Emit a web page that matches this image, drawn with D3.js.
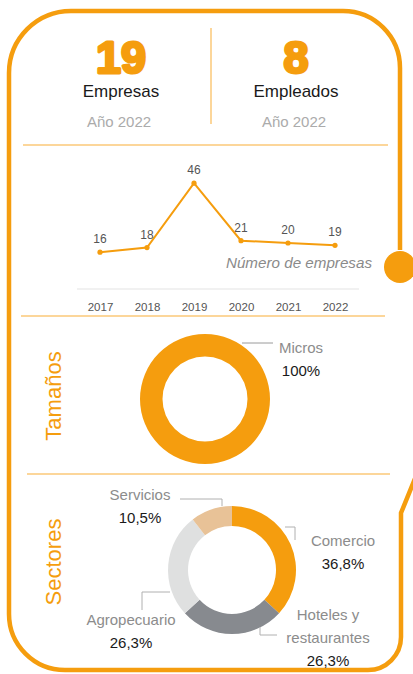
<!DOCTYPE html>
<html>
<head>
<meta charset="utf-8">
<script src="https://cdn.jsdelivr.net/npm/d3@7"></script>
<style>
  body { margin: 0; background: #fff; }
  svg { display: block; font-family: "Liberation Sans", Arial, sans-serif; }
</style>
</head>
<body>
<svg id="chart" width="413" height="674"></svg>
<script>
// headline figures
var kpiValues = ["19", "8"];
var kpiLabels = ["Empresas", "Empleados"];
var kpiYear = "Año 2022";

// number of companies by year
var years = ["2017", "2018", "2019", "2020", "2021", "2022"];
var empresas = [16, 18, 46, 21, 20, 19];

// sizes donut
var sizeNames = ["Micros"];
var sizeShares = [100];

// sectors donut
var sectorNames = ["Comercio", "Hoteles y restaurantes", "Agropecuario", "Servicios"];
var sectorShares = [36.8, 26.3, 26.3, 10.5];

var orange = "#f59d0e",
    lightOrange = "#fbc878",
    sectorColors = ["#f59d0e", "#878a8f", "#dfe0e0", "#e8c297"];

var svg = d3.select("#chart");

//Frame with the rounded corners, the knob on the right and the tail
var frame = d3.path();
frame.moveTo(400, 250);
frame.lineTo(400, 68);
frame.arcTo(400, 11, 343, 11, 57);
frame.lineTo(71, 11);
frame.arcTo(9, 11, 9, 73, 62);
frame.lineTo(9, 614);
frame.arcTo(9, 670, 65, 670, 56);
frame.lineTo(368, 670);
frame.arcTo(401, 670, 401, 637, 33);
frame.lineTo(401, 513);
frame.lineTo(416, 476);

svg.append("path")
  .attr("d", frame.toString())
  .attr("fill", "none")
  .attr("stroke", orange)
  .attr("stroke-width", 4.5);

svg.append("circle")
  .attr("cx", 400)
  .attr("cy", 267)
  .attr("r", 16)
  .attr("fill", orange);

//Headline block
var kpiX = [121, 296];
kpiValues.forEach(function(v, i) {
  svg.append("text")
    .attr("x", kpiX[i]).attr("y", 73)
    .attr("text-anchor", "middle")
    .attr("font-size", 45).attr("font-weight", "bold")
    .attr("fill", orange).attr("stroke", orange).attr("stroke-width", 3)
    .attr("stroke-linejoin", "round")
    .text(v);
  svg.append("text")
    .attr("x", kpiX[i]).attr("y", 97)
    .attr("text-anchor", "middle")
    .attr("font-size", 17).attr("fill", "#1a1a1a")
    .text(kpiLabels[i]);
  svg.append("text")
    .attr("x", kpiX[i] - 2).attr("y", 127)
    .attr("text-anchor", "middle")
    .attr("font-size", 15).attr("fill", "#ababab")
    .text(kpiYear);
});

svg.append("line")
  .attr("x1", 211).attr("x2", 211).attr("y1", 28).attr("y2", 124)
  .attr("stroke", lightOrange).attr("stroke-width", 1.5);

//Separators
[[23, 388, 145], [21, 385, 316], [27, 390, 474]].forEach(function(s) {
  svg.append("line")
    .attr("x1", s[0]).attr("x2", s[1]).attr("y1", s[2]).attr("y2", s[2])
    .attr("stroke", lightOrange).attr("stroke-width", 1.5);
});

//Line chart
var x = d3.scalePoint().domain(years).range([100, 335]);
var y = d3.scaleLinear().domain([0, 50]).range([289, 174]);

svg.append("line")
  .attr("x1", 77).attr("x2", 359).attr("y1", y(0)).attr("y2", y(0))
  .attr("stroke", "#ececec").attr("stroke-width", 1.5);

var xAxis = svg.append("g")
  .attr("transform", "translate(0," + y(0) + ")")
  .call(d3.axisBottom(x).tickSize(0).tickPadding(14));
xAxis.select(".domain").remove();
xAxis.selectAll("text")
  .attr("font-family", "'Liberation Sans', Arial, sans-serif")
  .attr("font-size", 11.5)
  .attr("fill", "#555");

var line = d3.line()
  .x(function(d, i) { return x(years[i]); })
  .y(function(d) { return y(d); });

svg.append("path")
  .datum(empresas)
  .attr("d", line)
  .attr("fill", "none")
  .attr("stroke", orange)
  .attr("stroke-width", 2);

svg.selectAll(".dot")
  .data(empresas)
  .enter().append("circle")
  .attr("cx", function(d, i) { return x(years[i]); })
  .attr("cy", function(d) { return y(d); })
  .attr("r", 2.6)
  .attr("fill", orange);

svg.selectAll(".val")
  .data(empresas)
  .enter().append("text")
  .attr("x", function(d, i) { return x(years[i]); })
  .attr("y", function(d) { return y(d) - 9; })
  .attr("text-anchor", "middle")
  .attr("font-size", 12)
  .attr("fill", "#555")
  .text(function(d) { return d; });

svg.append("text")
  .attr("x", 372).attr("y", 268)
  .attr("text-anchor", "end")
  .attr("font-size", 15.2).attr("font-style", "italic")
  .attr("fill", "#8a8a8a")
  .text("Número de empresas");

//Side titles
[["Tamaños", 396], ["Sectores", 562]].forEach(function(t) {
  svg.append("text")
    .attr("transform", "translate(61," + t[1] + ") rotate(-90)")
    .attr("text-anchor", "middle")
    .attr("font-size", 22)
    .attr("fill", orange)
    .text(t[0]);
});

//Sizes donut
var pie = d3.pie().sort(null).value(function(d) { return d; });

var sizeArc = d3.arc().innerRadius(42.5).outerRadius(65);
svg.append("g")
  .attr("transform", "translate(205,399)")
  .selectAll("path")
  .data(pie(sizeShares))
  .enter().append("path")
  .attr("d", sizeArc)
  .attr("fill", orange);

svg.append("line")
  .attr("x1", 242).attr("x2", 273).attr("y1", 343).attr("y2", 343)
  .attr("stroke", "#9a9a9a").attr("stroke-width", 1);
svg.append("text")
  .attr("x", 301).attr("y", 353)
  .attr("text-anchor", "middle")
  .attr("font-size", 15).attr("fill", "#8c8c8c")
  .text(sizeNames[0]);
svg.append("text")
  .attr("x", 301).attr("y", 376)
  .attr("text-anchor", "middle")
  .attr("font-size", 15).attr("fill", "#1a1a1a")
  .text(sizeShares[0] + "%");

//Sectors donut
var cx = 232, cy = 570;
var sectorArc = d3.arc().innerRadius(44).outerRadius(64);
svg.append("g")
  .attr("transform", "translate(" + cx + "," + cy + ")")
  .selectAll("path")
  .data(pie(sectorShares))
  .enter().append("path")
  .attr("d", sectorArc)
  .attr("fill", function(d, i) { return sectorColors[i]; });

// leader lines (relative to donut centre) and label anchors
var leaders = [
  [[53, -43], [63, -43], [63, -30]],
  [[28, 57], [28, 65], [45, 65]],
  [[-62, 22], [-90, 22], [-90, 40]],
  [[-10, -64], [-10, -71], [-52, -71]]
];
var labelX = [343, 328, 131, 140];
var labelY = [[546], [620, 643], [625], [500]];

sectorNames.forEach(function(name, i) {
  svg.append("polyline")
    .attr("points", leaders[i].map(function(p) { return (cx + p[0]) + "," + (cy + p[1]); }).join(" "))
    .attr("fill", "none")
    .attr("stroke", "#b0b0b0")
    .attr("stroke-width", 1);

  var lines = name == "Hoteles y restaurantes" ? ["Hoteles y", "restaurantes"] : [name];
  lines.forEach(function(l, j) {
    svg.append("text")
      .attr("x", labelX[i]).attr("y", labelY[i][j])
      .attr("text-anchor", "middle")
      .attr("font-size", 15).attr("fill", "#8c8c8c")
      .text(l);
  });
  svg.append("text")
    .attr("x", labelX[i]).attr("y", labelY[i][lines.length - 1] + 23)
    .attr("text-anchor", "middle")
    .attr("font-size", 15).attr("fill", "#1a1a1a")
    .text(String(sectorShares[i]).replace(".", ",") + "%");
});
</script>
</body>
</html>
